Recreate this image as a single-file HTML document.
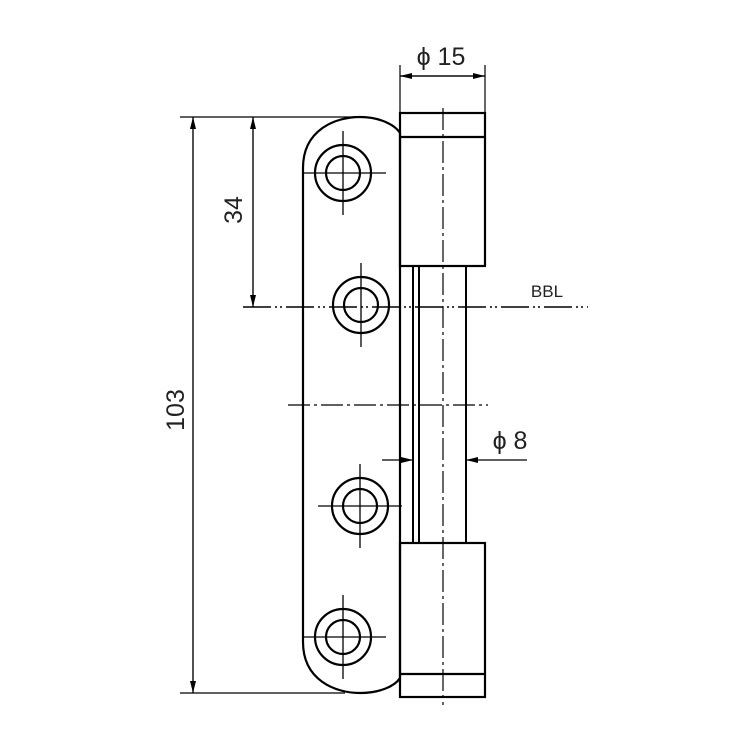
<!DOCTYPE html>
<html><head><style>html,body{margin:0;padding:0;background:#fff}</style></head>
<body>
<svg width="750" height="750" viewBox="0 0 750 750" xmlns="http://www.w3.org/2000/svg" font-family="Liberation Sans, DejaVu Sans, sans-serif">
<defs>
<marker id="a" viewBox="0 0 12 6" refX="12" refY="3" markerWidth="12" markerHeight="6" orient="auto" markerUnits="userSpaceOnUse"><path d="M0,0 L12,3 L0,6 Z" fill="#000"/></marker>
</defs>
<g stroke="#000" fill="none">
<!-- plate -->
<path d="M303,168 C303,130 335,117 360,117 C380,117 395,125 400,133 L400,678 C395,686 380,693 360,693 C335,693 303,680 303,642 Z" stroke-width="2.2"/>
<!-- barrel top -->
<rect x="400" y="113" width="85" height="153" stroke-width="2.2"/>
<line x1="400" y1="137" x2="485" y2="137" stroke-width="2.2"/>
<!-- pin -->
<line x1="413" y1="266" x2="413" y2="543" stroke-width="2"/>
<line x1="419" y1="266" x2="419" y2="543" stroke-width="2"/>
<line x1="466" y1="266" x2="466" y2="543" stroke-width="2"/>
<!-- barrel bottom -->
<rect x="400" y="543" width="85" height="154" stroke-width="2.2"/>
<line x1="400" y1="674" x2="485" y2="674" stroke-width="2.2"/>
<!-- centerline -->
<line x1="443" y1="108" x2="443" y2="705" stroke-width="1.2" stroke-dasharray="22,4,3,4"/>
<!-- holes -->
<g stroke-width="2.2">
<circle cx="343" cy="173" r="28"/><circle cx="343" cy="173" r="17"/>
<circle cx="361" cy="305" r="28"/><circle cx="361" cy="305" r="17"/>
<circle cx="360" cy="506" r="28"/><circle cx="360" cy="506" r="17"/>
<circle cx="343" cy="637" r="28"/><circle cx="343" cy="637" r="17"/>
</g>
<g stroke-width="1.3">
<line x1="302" y1="173" x2="386" y2="173"/><line x1="343" y1="131" x2="343" y2="215"/>
<line x1="361" y1="263" x2="361" y2="347"/>
<line x1="318" y1="506" x2="402" y2="506"/><line x1="360" y1="464" x2="360" y2="548"/>
<line x1="302" y1="637" x2="386" y2="637"/><line x1="343" y1="595" x2="343" y2="679"/>
</g>
<!-- BBL -->
<line x1="243" y1="307" x2="588" y2="307" stroke-width="1.6" stroke-dasharray="28,4,2,3,2,4"/>
<line x1="288" y1="405" x2="488" y2="405" stroke-width="1.2" stroke-dasharray="22,4,3,4"/>
<!-- dims -->
<g stroke-width="1.2">
<line x1="180" y1="117" x2="360" y2="117"/>
<line x1="180" y1="693" x2="345" y2="693"/>
<line x1="193" y1="693" x2="193" y2="117" marker-end="url(#a)"/>
<line x1="193" y1="117" x2="193" y2="693" marker-end="url(#a)"/>
<line x1="253" y1="307" x2="253" y2="117" marker-end="url(#a)"/>
<line x1="253" y1="117" x2="253" y2="307" marker-end="url(#a)"/>
<line x1="400" y1="65" x2="400" y2="113"/>
<line x1="485" y1="65" x2="485" y2="113"/>
<line x1="485" y1="76" x2="400" y2="76" marker-end="url(#a)"/>
<line x1="400" y1="76" x2="485" y2="76" marker-end="url(#a)"/>
<line x1="382" y1="460" x2="413" y2="460" marker-end="url(#a)"/>
<line x1="527" y1="460" x2="466" y2="460" marker-end="url(#a)"/>
</g>
</g>
<g fill="#222" font-size="25">
<text x="441" y="65" text-anchor="middle">ϕ 15</text>
<text x="510" y="449" text-anchor="middle">ϕ 8</text>
<text x="547" y="297" text-anchor="middle" font-size="17">BBL</text>
<text transform="translate(184,410) rotate(-90)" text-anchor="middle">103</text>
<text transform="translate(242,210) rotate(-90)" text-anchor="middle">34</text>
</g>
</svg>
</body></html>
